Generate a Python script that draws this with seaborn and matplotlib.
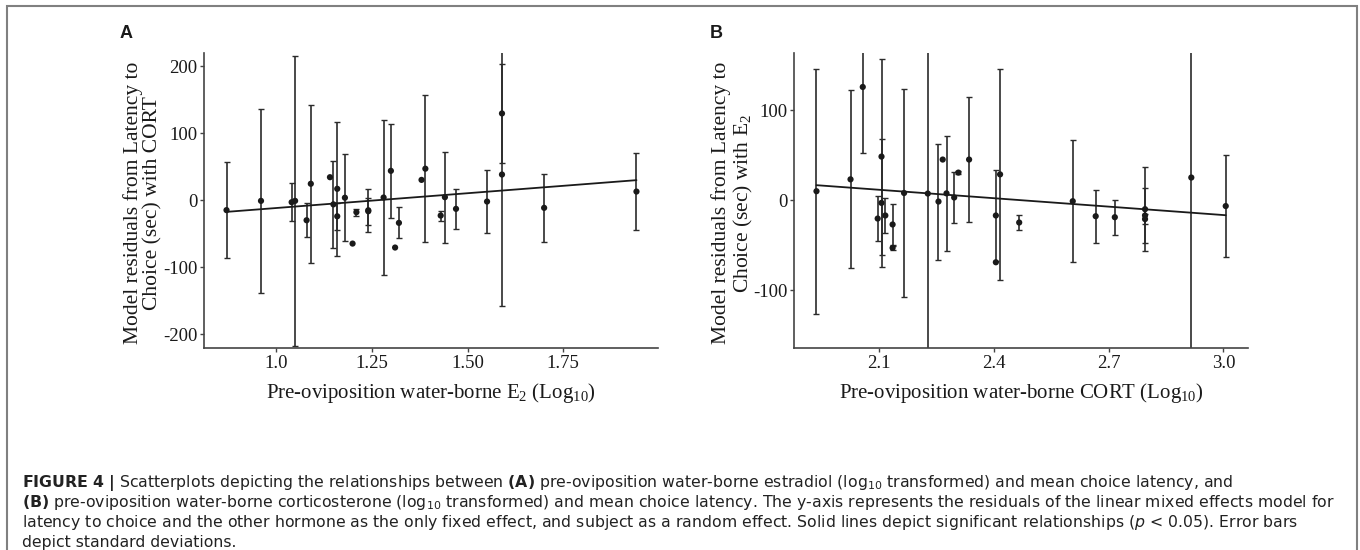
import numpy as np
import seaborn as sns
import matplotlib.pyplot as plt
from matplotlib.patches import Rectangle

nan = np.nan

# Panel A: E2 (log10) vs residuals (latency ~ CORT)
a_x = [0.871, 0.961, 1.041, 1.050, 1.080, 1.091, 1.141, 1.150, 1.160, 1.160,
       1.180, 1.200, 1.210, 1.241, 1.241, 1.281, 1.300, 1.311, 1.321, 1.380,
       1.390, 1.430, 1.441, 1.470, 1.551, 1.590, 1.590, 1.700, 1.941]
a_y = [-14.8, -1, -3, -1, -29.9, 24.5, 34.3, -6.2, 17, -24,
       3.7, -64.7, -17.9, -15, -16.5, 4, 43.8, -70.6, -33.8, 30.3,
       47, -22.9, 4.5, -12.9, -2, 129.4, 38.3, -11.4, 12.9]
a_sd = [72, 137, 28, 216, 25, 118, nan, 65, 100, 20,
        65, nan, 5, 32, 20, 116, 70, nan, 23, nan,
        110, 7.5, 68, 30, 47, 74, 196, 51, 58]
a_line_x = [0.871, 1.941]
a_line_y = [-17.4, 29.9]
a_xticks = [1.0, 1.25, 1.50, 1.75]
a_xlabels = ["1.0", "1.25", "1.50", "1.75"]
a_yticks = [-200, -100, 0, 100, 200]

# Panel B: CORT (log10) vs residuals (latency ~ E2)
b_x = [1.936, 2.025, 2.057, 2.096, 2.106, 2.106, 2.116, 2.135, 2.135, 2.165,
       2.227, 2.255, 2.266, 2.276, 2.296, 2.307, 2.335, 2.405, 2.405, 2.416,
       2.466, 2.606, 2.666, 2.716, 2.795, 2.795, 2.795, 2.916, 3.006]
b_y = [10, 23.2, 125.9, -20.4, 48.5, -3, -17, -27, -53, 8,
       7.4, -1.5, 45.2, 7.6, 3, 30.7, 45.2, -17, -69, 28.7,
       -24.8, -1.1, -17.8, -18.9, -10, -17, -21, 25.2, -6.5]
b_sd = [136, 99, 73, 25, 109, 71.5, 19.5, 22.6, 2, 116,
        240, 64.5, nan, 64.3, 27.8, 1.5, 69.6, 50.7, nan, 117,
        8, 67.8, 29.3, 19.6, 46.7, 31, 6, 240, 57.2]
b_line_x = [1.936, 3.006]
b_line_y = [16.7, -16.7]
b_xticks = [2.1, 2.4, 2.7, 3.0]
b_xlabels = ["2.1", "2.4", "2.7", "3.0"]
b_yticks = [-100, 0, 100]

ylabel_a = "Model residuals from Latency to\nChoice (sec) with CORT"
ylabel_b = "Model residuals from Latency to\nChoice (sec) with $\\mathregular{E_2}$"
xlabel_a = "Pre-oviposition water-borne $\\mathregular{E_2}$ ($\\mathregular{Log_{10}}$)"
xlabel_b = "Pre-oviposition water-borne CORT ($\\mathregular{Log_{10}}$)"

caption = [
    "$\\mathbf{FIGURE\\ 4\\ |}$ Scatterplots depicting the relationships between $\\mathbf{(A)}$ "
    "pre-oviposition water-borne estradiol ($\\mathregular{log_{10}}$ transformed) and mean choice latency, and",
    "$\\mathbf{(B)}$ pre-oviposition water-borne corticosterone ($\\mathregular{log_{10}}$ transformed) and mean "
    "choice latency. The y-axis represents the residuals of the linear mixed effects model for",
    "latency to choice and the other hormone as the only fixed effect, and subject as a random effect. "
    "Solid lines depict significant relationships ($\\mathit{p}$ < 0.05). Error bars",
    "depict standard deviations.",
]

sns.set_style("ticks")
plt.rcParams["font.family"] = ["Liberation Serif", "DejaVu Serif"]
plt.rcParams["axes.unicode_minus"] = False
plt.rcParams["mathtext.fontset"] = "custom"
plt.rcParams["mathtext.rm"] = "DejaVu Sans"
plt.rcParams["mathtext.bf"] = "DejaVu Sans:bold"
plt.rcParams["mathtext.it"] = "DejaVu Sans:italic"

W, H = 1360, 550
fig = plt.figure(figsize=(W / 100, H / 100), dpi=100)

ink = "#1a1a1a"


def panel(left, x, y, sd, lx, ly, xlim, ylim, xticks, xlabels, yticks, ylab, xlab, letter):
    ax = fig.add_axes([left / W, (H - 347.7) / H, 454 / W, 295 / H])
    ax.errorbar(x, y, yerr=sd, fmt="none", ecolor="#2b2b2b", elinewidth=1.2,
                capsize=2, capthick=1, zorder=2)
    sns.scatterplot(x=x, y=y, ax=ax, color=ink, s=20, edgecolor="none", zorder=3)
    sns.lineplot(x=lx, y=ly, ax=ax, color=ink, lw=1.3, zorder=4)
    ax.set_xlim(xlim)
    ax.set_ylim(ylim)
    ax.set_xticks(xticks)
    ax.set_xticklabels(xlabels)
    ax.set_yticks(yticks)
    ax.tick_params(labelsize=13.5, length=3, width=1, color="#444", labelcolor=ink, pad=2)
    for s in ["top", "right"]:
        ax.spines[s].set_visible(False)
    for s in ["left", "bottom"]:
        ax.spines[s].set_color("#444")
        ax.spines[s].set_linewidth(1.2)
    ax.text(-61.3 / 454, 0.49, ylab, transform=ax.transAxes, rotation=90, ha="center",
            va="center", multialignment="center", fontsize=15.5, color=ink, linespacing=1.05)
    ax.text(0.5, -0.153, xlab, transform=ax.transAxes, ha="center", va="center",
            fontsize=15, color=ink)
    fig.text((left - 78) / W, 1 - 34 / H, letter, ha="center", va="center",
             fontsize=13, fontweight="bold", family="Liberation Sans", color=ink)
    return ax


panel(204.3, a_x, a_y, a_sd, a_line_x, a_line_y, (0.813, 1.998), (-220, 220),
      a_xticks, a_xlabels, a_yticks, ylabel_a, xlabel_a, "A")
panel(794.3, b_x, b_y, b_sd, b_line_x, b_line_y, (1.878, 3.065), (-164, 164),
      b_xticks, b_xlabels, b_yticks, ylabel_b, xlabel_b, "B")

# frame around the figure and caption
fig.add_artist(Rectangle((7 / W, -0.05), (1357 - 7) / W, 1.05 - 6 / H,
                         transform=fig.transFigure, fill=False, ec="#808080", lw=1.5))

for i, line in enumerate(caption):
    fig.text(22.5 / W, 1 - (486.7 + 20 * i) / H, line, ha="left", va="baseline",
             fontsize=11.3, family="DejaVu Sans", color="#222")

fig.savefig("out.png", dpi=100)
